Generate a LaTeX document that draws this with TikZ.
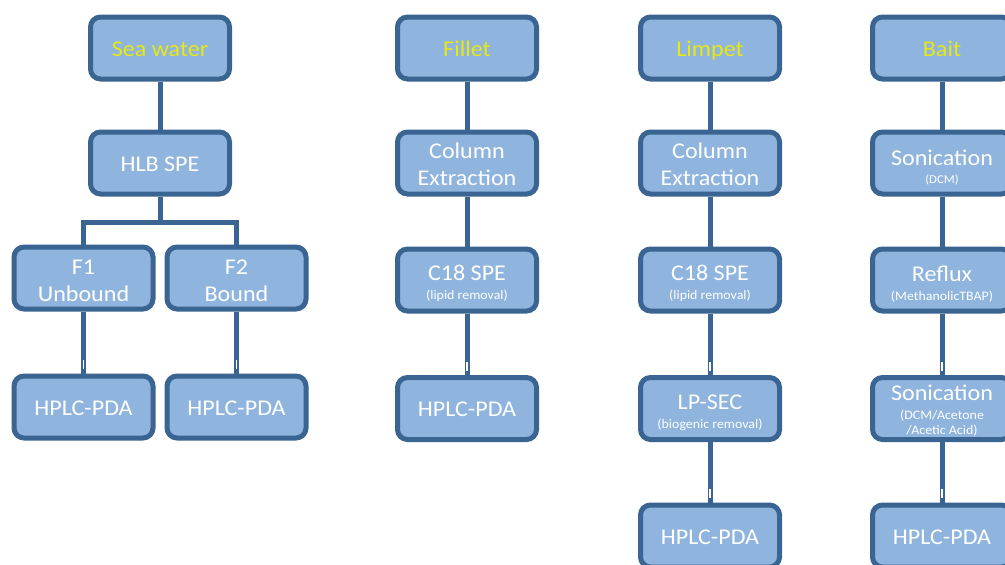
\documentclass[tikz,border=0pt]{standalone}
\usepackage{fontspec}
\setmainfont{Carlito}[FakeStretch=1.07]
\usetikzlibrary{backgrounds}
\definecolor{boxfill}{RGB}{143,180,222}
\definecolor{boxline}{RGB}{58,100,145}
\definecolor{titleyellow}{RGB}{232,232,20}
\newcommand\sublabel[1]{{\fontsize{13}{14}\selectfont #1}}
\newcommand\smalllabel[1]{{\fontsize{12}{13}\selectfont #1}}
\newcommand\lowerby[1]{\rule{0pt}{#1}}
\begin{document}
\begin{tikzpicture}[x=1pt,y=-1pt,
  box/.style={draw=boxline, line width=5pt, fill=boxfill, rounded corners=10pt,
    minimum width=139pt, minimum height=62pt, text=white, align=center,
    font=\fontsize{22.5}{27}\selectfont, inner sep=0pt},
  titlebox/.style={box, text=titleyellow, text height=18pt, text depth=2pt},
  onebox/.style={box, text height=18pt, text depth=2pt},
  link/.style={draw=boxline, line width=5pt, line join=miter},
  gapmark/.style={draw=white, line width=1.6pt}]
\useasboundingbox (0,0) rectangle (1005,565);
\clip (0,0) rectangle (1005,565);
% column 1
\node[titlebox] (sw) at (160,48) {Sea water};
\node[onebox] (hlb) at (160,163) {HLB SPE};
\node[box] (f1) at (83.5,278) {\lowerby{21pt}F1\\Unbound};
\node[box] (f2) at (236.5,278) {\lowerby{21pt}F2\\Bound};
\node[onebox] (h1) at (83.5,407) {HPLC-PDA};
\node[onebox] (h2) at (236.5,407) {HPLC-PDA};
\coordinate (j) at (160,222);
% column 2
\node[titlebox] (fil) at (467,48) {Fillet};
\node[box] (ce2) at (467,163) {\lowerby{19pt}Column\\Extraction};
\node[box] (c2) at (467,280) {\lowerby{23pt}C18 SPE\\[-8pt]\sublabel{(lipid removal)}};
\node[onebox] (h3) at (467,408.5) {HPLC-PDA};
% column 3
\node[titlebox] (lim) at (710,48) {Limpet};
\node[box] (ce3) at (710,163) {\lowerby{19pt}Column\\Extraction};
\node[box] (c3) at (710,280) {\lowerby{23pt}C18 SPE\\[-8pt]\sublabel{(lipid removal)}};
\node[box] (lp) at (710,408.5) {\lowerby{23pt}LP-SEC\\[-8pt]\sublabel{(biogenic removal)}};
\node[onebox] (h4) at (710,536) {HPLC-PDA};
% column 4
\node[titlebox] (bait) at (942,48) {Bait};
\node[box] (son1) at (942,163) {\lowerby{24pt}Sonication\\[-9pt]\smalllabel{(DCM)}};
\node[box] (ref) at (942,280) {\lowerby{23pt}Reflux\\[-8pt]\sublabel{(MethanolicTBAP)}};
\node[box] (son2) at (942,408.5) {\lowerby{19pt}Sonication\\[-8pt]\sublabel{(DCM/Acetone}\\[-12pt]\sublabel{/Acetic Acid)}};
\node[onebox] (h5) at (942,536) {HPLC-PDA};
% connectors
\begin{scope}[on background layer]
\draw[link] (sw) -- (hlb);
\draw[link] (hlb) -- (j) -| (f1);
\draw[link] (j) -| (f2);
\draw[link] (f1) -- (h1);
\draw[link] (f2) -- (h2);
\draw[link] (fil) -- (ce2);
\draw[link] (ce2) -- (c2);
\draw[link] (c2) -- (h3);
\draw[link] (lim) -- (ce3);
\draw[link] (ce3) -- (c3);
\draw[link] (c3) -- (lp);
\draw[link] (lp) -- (h4);
\draw[link] (bait) -- (son1);
\draw[link] (son1) -- (ref);
\draw[link] (ref) -- (son2);
\draw[link] (son2) -- (h5);
\end{scope}
\foreach \n in {h1,h2,h3,lp,h4,son2,h5}
  \draw[gapmark] (\n.north) ++(0,-13.5) -- ++(0,9);
\end{tikzpicture}
\end{document}
